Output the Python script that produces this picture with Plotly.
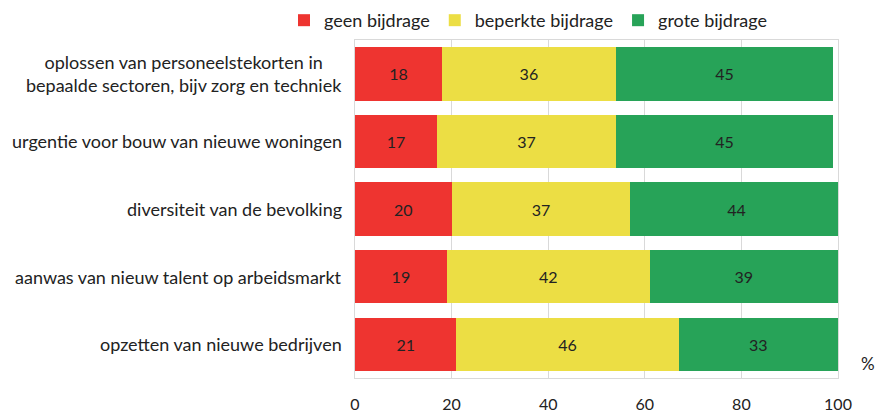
import plotly.graph_objects as go

categories = [
    "oplossen van personeelstekorten in<br>bepaalde sectoren, bijv zorg en techniek",
    "urgentie voor bouw van nieuwe woningen",
    "diversiteit van de bevolking",
    "aanwas van nieuw talent op arbeidsmarkt",
    "opzetten van nieuwe bedrijven",
]
geen = [18, 17, 20, 19, 21]
beperkt = [36, 37, 37, 42, 46]
groot = [45, 45, 44, 39, 33]
series_names = ["geen bijdrage", "beperkte bijdrage", "grote bijdrage"]
colors = ["#EE3430", "#ECDE44", "#27A358"]
x_ticks = [0, 20, 40, 60, 80, 100]

FONT = "Lato"
ids = list(range(len(categories)))

fig = go.Figure()
for name, vals, col in zip(series_names, [geen, beperkt, groot], colors):
    fig.add_trace(go.Bar(
        y=ids, x=vals, name=name, orientation="h",
        marker=dict(color=col, line=dict(width=0)),
        text=vals, texttemplate="%{text}", textposition="inside",
        insidetextanchor="middle",
        textfont=dict(family=FONT, size=16, color="#222222"),
        width=0.79,
    ))

for i, c in enumerate(categories):
    fig.add_annotation(
        x=0, xref="paper", y=i, yref="y", xanchor="right", yanchor="middle",
        xshift=-11, text=c, showarrow=False, align="center",
        font=dict(family=FONT, size=18, color="#222222"),
    )

fig.add_annotation(
    x=1, xref="paper", y=4, yref="y", xanchor="right", yanchor="middle",
    xshift=39, yshift=-19, text="%", showarrow=False,
    font=dict(family=FONT, size=17, color="#222222"),
)

fig.update_layout(
    barmode="stack",
    width=879, height=413,
    margin=dict(l=355, r=41, t=40, b=35, autoexpand=False),
    paper_bgcolor="white", plot_bgcolor="white",
    font=dict(family=FONT, size=16, color="#222222"),
    showlegend=True,
    legend=dict(
        orientation="h", x=(284 - 355) / 483, xanchor="left",
        y=1.003, yanchor="bottom",
        font=dict(family=FONT, size=18, color="#222222"),
        traceorder="normal", itemwidth=30,
    ),
    xaxis=dict(
        range=[0, 100], tickvals=x_ticks, showgrid=True, gridcolor="#D9D9D9",
        gridwidth=1, zeroline=False, showline=True, linecolor="#D9D9D9",
        mirror=True, ticks="", ticklabelstandoff=12,
        tickfont=dict(family=FONT, size=16, color="#222222"),
    ),
    yaxis=dict(
        range=[4.5, -0.5], tickvals=ids, showticklabels=False, showgrid=False,
        zeroline=False, showline=True, linecolor="#D9D9D9", mirror=True,
    ),
)

fig.write_html(
    "out.html",
    config={"displayModeBar": False},
    post_script="document.body.style.margin='0px';",
)
